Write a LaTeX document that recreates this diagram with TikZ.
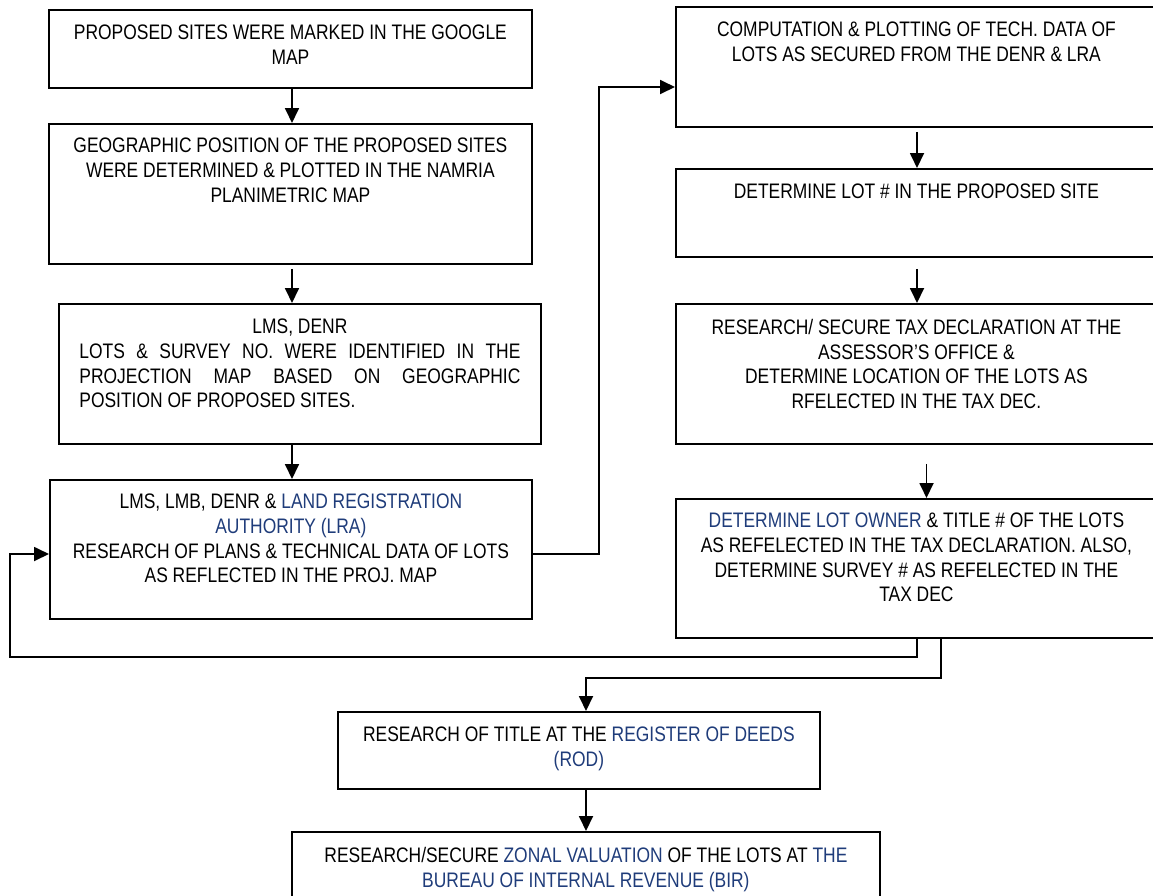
\documentclass[tikz,border=0pt]{standalone}
\usepackage{fontspec}
\setmainfont[FakeStretch=0.83]{Liberation Sans}
\usetikzlibrary{arrows.meta,calc}
\definecolor{wblue}{HTML}{1F3C7A}
\newcommand{\bl}[1]{\textcolor{wblue}{#1}}
\begin{document}
\begin{tikzpicture}[x=1pt,y=-1pt,
  pbox/.style={draw=black,line width=1.8pt,anchor=north west,inner sep=0pt},
  txt/.style={anchor=north,inner sep=0pt,align=center,font=\fontsize{21}{24.7}\selectfont},
  arr/.style={line width=1.8pt,-{Triangle[length=15pt,width=14pt]}},
  ln/.style={line width=1.8pt}]
\useasboundingbox (0,0) rectangle (1153,895);
% boxes
\node[pbox,minimum width=483pt,minimum height=78pt] (b1) at (48,9) {};
\node[pbox,minimum width=483pt,minimum height=140pt] (b2) at (48,123) {};
\node[pbox,minimum width=482pt,minimum height=140pt] (b3) at (58,303) {};
\node[pbox,minimum width=482pt,minimum height=139pt] (b4) at (49,479) {};
\node[pbox,minimum width=481pt,minimum height=120pt] (b5) at (675,6) {};
\node[pbox,minimum width=481pt,minimum height=88pt] (b6) at (675,168) {};
\node[pbox,minimum width=481pt,minimum height=140pt] (b7) at (675,303) {};
\node[pbox,minimum width=481pt,minimum height=139pt] (b8) at (675,498) {};
\node[pbox,minimum width=482pt,minimum height=77pt] (b9) at (337,711) {};
\node[pbox,minimum width=588pt,minimum height=90pt] (b10) at (291,831) {};
% texts
\node[txt] (t1) at ($(b1.north)+(0,16)$) {PROPOSED SITES WERE MARKED IN THE GOOGLE\\MAP};
\node[txt] (t2) at ($(b2.north)+(0,15)$) {GEOGRAPHIC POSITION OF THE PROPOSED SITES\\WERE DETERMINED \& PLOTTED IN THE NAMRIA\\PLANIMETRIC MAP};
\node[txt] (t3) at ($(b3.north)+(0,16)$) {\makebox[441pt][c]{LMS, DENR}\\\makebox[441pt][s]{LOTS \& SURVEY NO. WERE IDENTIFIED IN THE}\\\makebox[441pt][s]{PROJECTION MAP BASED ON GEOGRAPHIC}\\\makebox[441pt][l]{POSITION OF PROPOSED SITES.}};
\node[txt] (t4) at ($(b4.north)+(0,15)$) {LMS, LMB, DENR \& \bl{LAND REGISTRATION}\\\bl{AUTHORITY (LRA)}\\RESEARCH OF PLANS \& TECHNICAL DATA OF LOTS\\AS REFLECTED IN THE PROJ. MAP};
\node[txt] (t5) at ($(b5.north)+(0,16)$) {COMPUTATION \& PLOTTING OF TECH. DATA OF\\LOTS AS SECURED FROM THE DENR \& LRA};
\node[txt] (t6) at ($(b6.north)+(0,16)$) {DETERMINE LOT \# IN THE PROPOSED SITE};
\node[txt] (t7) at ($(b7.north)+(0,16)$) {RESEARCH/ SECURE TAX DECLARATION AT THE\\ASSESSOR’S OFFICE \&\\DETERMINE LOCATION OF THE LOTS AS\\RFELECTED IN THE TAX DEC.};
\node[txt] (t8) at ($(b8.north)+(0,15)$) {\bl{DETERMINE LOT OWNER} \& TITLE \# OF THE LOTS\\AS REFELECTED IN THE TAX DECLARATION. ALSO,\\DETERMINE SURVEY \# AS REFELECTED IN THE\\TAX DEC};
\node[txt] (t9) at ($(b9.north)+(0,16)$) {RESEARCH OF TITLE AT THE \bl{REGISTER OF DEEDS}\\\bl{(ROD)}};
\node[txt] (t10) at ($(b10.north)+(0,16)$) {RESEARCH/SECURE \bl{ZONAL VALUATION} OF THE LOTS AT \bl{THE}\\\bl{BUREAU OF INTERNAL REVENUE (BIR)}};
% helper coordinates
\coordinate (cA) at (292,0);
\coordinate (cR) at (917,0);
\coordinate (cR2) at (926.5,0);
\coordinate (cR3) at (941,0);
\coordinate (cB) at (586,0);
\coordinate (xl) at (10,0);
\coordinate (xv) at (599,0);
\coordinate (y554) at (0,554);
\coordinate (y87) at (0,87);
\coordinate (yl) at (0,657);
\coordinate (yk) at (0,678);
% connectors
\draw[arr] (b1.south -| cA) -- (b2.north -| cA);
\draw[arr] ($(b2.south -| cA)+(0,4)$) -- (b3.north -| cA);
\draw[arr] (b3.south -| cA) -- (b4.north -| cA);
\draw[arr] ($(b5.south -| cR)+(0,4)$) -- (b6.north -| cR);
\draw[arr] ($(b6.south -| cR)+(0,11)$) -- (b7.north -| cR);
\draw[arr] ($(b7.south -| cR2)+(0,19)$) -- (b8.north -| cR2);
\draw[arr] (b9.south -| cB) -- (b10.north -| cB);
\draw[arr] (b8.south -| cR3) -- (cR3 |- yk) -- (cB |- yk) -- (b9.north -| cB);
\draw[arr] (b8.south -| cR) -- (cR |- yl) -- (xl |- yl) -- (xl |- y554) -- (b4.west |- y554);
\draw[arr] (b4.east |- y554) -- (xv |- y554) -- (xv |- y87) -- (b5.west |- y87);
\end{tikzpicture}
\end{document}
